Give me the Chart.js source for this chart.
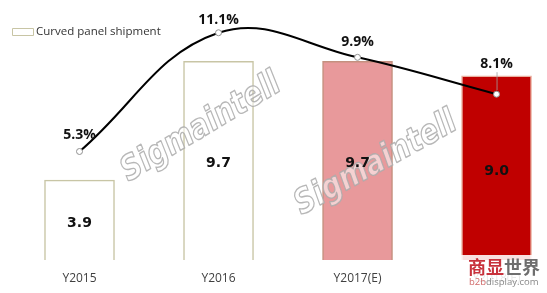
<!DOCTYPE html>
<html>
<head>
<meta charset="utf-8">
<script src="https://cdn.jsdelivr.net/npm/chart.js@4"></script>
<style>
html,body{margin:0;padding:0;background:#fff;}
canvas{display:block;}
</style>
</head>
<body>
<canvas id="c" width="547" height="293"></canvas>
<script>
// ---- data ----
const categories = ['Y2015', 'Y2016', 'Y2017(E)', 'Y2018(E)'];
const shipment = [3.9, 9.7, 9.7, 9.0];
const growth = [5.3, 11.1, 9.9, 8.1];
const seriesName = 'Curved panel shipment';

// ---- styles ----
const barFills = ['#ffffff', '#ffffff', '#e8999b', '#c00000'];
const barBorders = ['#c8c5a5', '#c8c5a5', '#c4907f', '#eab0a0'];
const growthLabelOffsets = [16, 13, 15, 30];

const overlay = {
  id: 'overlay',
  afterDatasetsDraw(chart) {
    const ctx = chart.ctx;
    const barMeta = chart.getDatasetMeta(0);
    const lineMeta = chart.getDatasetMeta(1);
    ctx.save();

    // watermarks
    const marks = [[201, 128, -31], [376, 164, -29]];
    ctx.font = 'bold italic 34px "DejaVu Sans"';
    ctx.textAlign = 'center';
    ctx.textBaseline = 'middle';
    ctx.lineJoin = 'round';
    marks.forEach(([cx, cy, ang]) => {
      ctx.save();
      ctx.translate(cx, cy);
      ctx.rotate(ang * Math.PI / 180);
      ctx.fillStyle = 'rgba(255,255,255,0.55)';
      ctx.fillText('Sigmaintell', 0, 0, 180);
      ctx.strokeStyle = 'rgba(170,170,170,0.85)';
      ctx.lineWidth = 1.4;
      ctx.strokeText('Sigmaintell', 0, 0, 180);
      ctx.restore();
    });

    // bar value labels
    ctx.font = 'bold 14px "DejaVu Sans"';
    ctx.fillStyle = '#111';
    barMeta.data.forEach((bar, i) => {
      const p = bar.getProps(['x', 'y', 'base'], true);
      ctx.fillText(shipment[i].toFixed(1), p.x, (p.y + p.base) / 2 + 3);
    });

    // growth labels
    ctx.font = 'bold 14px "Open Sans"';
    ctx.fillStyle = '#111';
    lineMeta.data.forEach((pt, i) => {
      ctx.fillText(growth[i].toFixed(1) + '%', pt.x, pt.y - growthLabelOffsets[i]);
      if (growthLabelOffsets[i] > 20) {
        ctx.strokeStyle = '#a0a0a0';
        ctx.lineWidth = 0.8;
        ctx.beginPath();
        ctx.moveTo(pt.x + 0.5, pt.y - 4);
        ctx.lineTo(pt.x + 0.5, pt.y - growthLabelOffsets[i] + 8);
        ctx.stroke();
      }
    });

    // legend
    ctx.fillStyle = '#fff';
    ctx.strokeStyle = '#c8c5a5';
    ctx.lineWidth = 1;
    ctx.fillRect(12.5, 28.5, 21, 7);
    ctx.strokeRect(12.5, 28.5, 21, 7);
    ctx.font = '11.5px "Open Sans"';
    ctx.fillStyle = '#333';
    ctx.textAlign = 'left';
    ctx.fillText(seriesName, 36, 32);
    ctx.restore();
  },
  afterDraw(chart) {
    const ctx = chart.ctx;
    ctx.save();
    ctx.fillStyle = 'rgba(255,255,255,0.88)';
    ctx.fillRect(458, 255, 89, 38);
    ctx.textBaseline = 'middle';
    ctx.textAlign = 'left';
    ctx.font = 'bold 18px "Noto Sans CJK SC"';
    ctx.fillStyle = '#c8323c';
    ctx.fillText('商显', 468, 267);
    const w = ctx.measureText('商显').width;
    ctx.fillStyle = '#6e6e6e';
    ctx.fillText('世界', 468 + w, 267);
    ctx.font = '9.5px "Open Sans"';
    ctx.fillStyle = '#d06a6a';
    ctx.fillText('b2b', 469, 282);
    const w2 = ctx.measureText('b2b').width;
    ctx.fillStyle = '#888';
    ctx.fillText('display.com', 469 + w2, 282);
    ctx.restore();
  }
};

new Chart(document.getElementById('c'), {
  data: {
    datasets: [
      {
        type: 'bar',
        label: seriesName,
        data: shipment.map((v, i) => ({ x: i, y: v })),
        backgroundColor: barFills,
        borderColor: barBorders,
        borderWidth: 1.5,
        barThickness: 70,
        order: 1
      },
      {
        type: 'line',
        label: 'growth',
        data: growth.map((v, i) => ({ x: i, y: v })),
        borderColor: '#000',
        borderWidth: 2,
        tension: 0.4,
        pointRadius: 3,
        pointBackgroundColor: '#fff',
        pointBorderColor: '#909090',
        pointBorderWidth: 1,
        order: 0
      }
    ]
  },
  options: {
    responsive: false,
    animation: false,
    devicePixelRatio: 1,
    layout: { autoPadding: false, padding: { left: 10, right: 0, top: 0, bottom: 0 } },
    plugins: { legend: { display: false }, tooltip: { enabled: false } },
    scales: {
      x: {
        type: 'linear',
        offset: false,
        min: -0.5,
        max: 3.363,
        grid: { display: false, offset: false, drawTicks: false },
        border: { display: false },
        afterBuildTicks: (scale) => { scale.ticks = categories.map((_, i) => ({ value: i })); },
        afterFit: (scale) => { scale.height = 33; },
        ticks: {
          padding: 11,
          color: '#404040',
          font: { family: 'Open Sans', size: 12 },
          maxRotation: 0,
          autoSkip: false,
          callback: (v) => categories[v]
        }
      },
      y: {
        display: false,
        min: 0,
        max: 12.7
      }
    }
  },
  plugins: [overlay]
});
</script>
</body>
</html>
